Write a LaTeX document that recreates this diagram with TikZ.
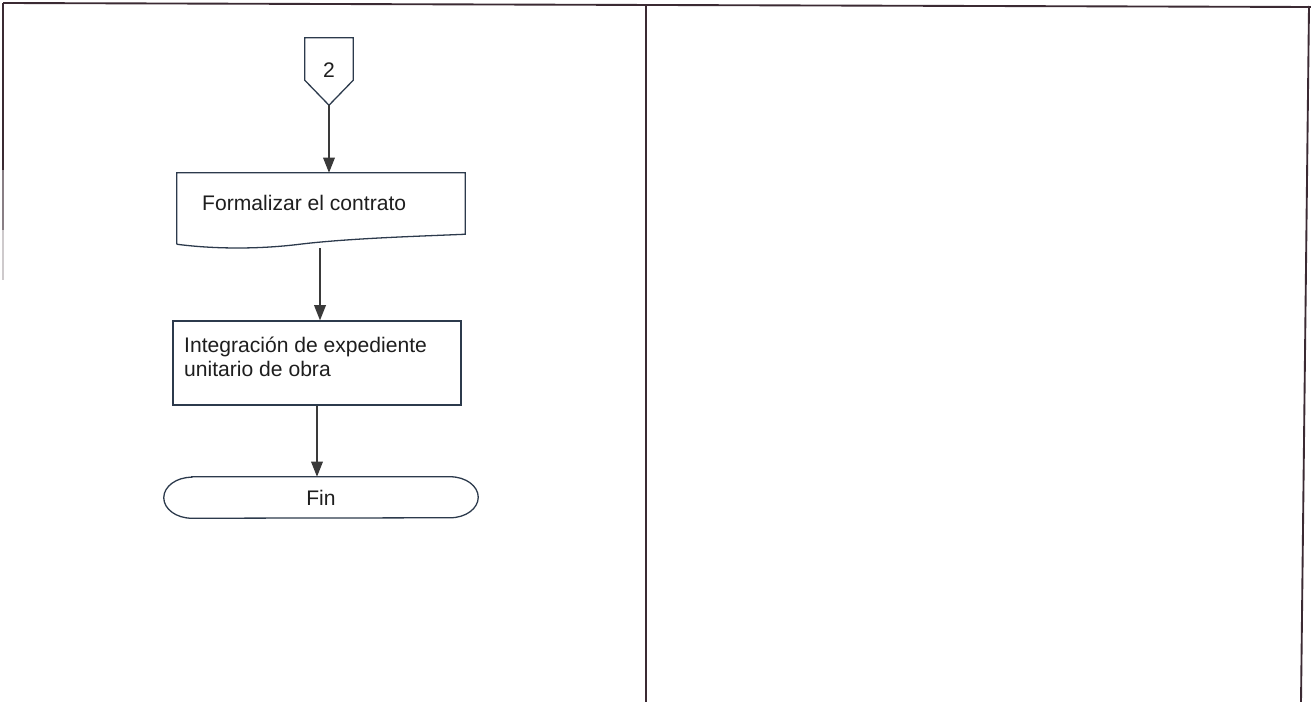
\documentclass[tikz,border=0pt]{standalone}
\usepackage{fontspec}
\setmainfont{Liberation Sans}
\usetikzlibrary{arrows.meta,calc}

\definecolor{framecol}{HTML}{3B2A33}
\definecolor{shapecol}{HTML}{2C3A4C}
\definecolor{arrowcol}{HTML}{3A3A3A}
\definecolor{textcol}{HTML}{1E1E1E}

\tikzset{
  frameline/.style={draw=framecol, line width=1.6pt},
  outline/.style={draw=shapecol, line width=1.1pt, line join=miter},
  holder/.style={draw=none, inner sep=0pt},
  label18/.style={font=\fontsize{18}{20.5}\selectfont, text=textcol, inner sep=0pt},
  flow/.style={draw=arrowcol, line width=1.2pt,
    -{Triangle[width=10pt,length=13pt,fill=arrowcol]}},
}

\begin{document}
\begin{tikzpicture}[x=0.03cm, y=-0.03cm]
  \useasboundingbox (0,0) rectangle (1311,702);

  % page frame and column divider
  \draw[frameline] (3,3) -- (1311,7);
  \draw[frameline] (3,3) -- (3,170);
  \draw[frameline, draw=framecol!60] (3,170) -- (3,230);
  \draw[frameline, draw=framecol!25] (3,230) -- (3,280);
  \draw[frameline] (646,5) -- (646,702);
  \draw[frameline] (1309,6) -- (1301,702);

  % off-page connector "2"
  \node[holder, minimum width=1.44cm, minimum height=2.01cm] (c2) at (329,71.5) {};
  \draw[outline] (c2.north west) -- (c2.north east)
    -- ($(c2.south east)+(0,-25)$) -- (c2.south)
    -- ($(c2.south west)+(0,-25)$) -- cycle;
  \node[label18] (c2t) at (329,70) {2};

  % document: Formalizar el contrato
  \node[holder, minimum width=8.64cm, minimum height=2.16cm] (d1box) at (321,209) {};
  \draw[outline] ($(d1box.south west)+(0,-1)$) -- (d1box.north west)
    -- (d1box.north east) -- ($(d1box.south east)+(0,-11)$)
    .. controls ($(d1box.south west)+(243,-9)$) and ($(d1box.south west)+(173,-7)$)
    .. ($(d1box.south west)+(123,-1)$)
    .. controls ($(d1box.south west)+(83,4)$) and ($(d1box.south west)+(38,4)$)
    .. ($(d1box.south west)+(0,-1)$);
  \node[label18, anchor=west] (d1) at (202,203) {Formalizar el contrato};

  % process: Integración de expediente unitario de obra
  \node[holder, outline, minimum width=8.64cm, minimum height=2.52cm] (d2box) at (317,363) {};
  \node[label18, anchor=west, align=left] (d2) at (184,357) {Integración de expediente\\unitario de obra};

  % terminator: Fin (elongated, with half-ellipse ends)
  \node[holder, label18, minimum width=9.42cm, minimum height=1.23cm] (d3) at (321,497.5) {Fin};
  \draw[outline] ($(d3.north west)+(28,0)$) -- ($(d3.north east)+(-28,0)$)
    arc[start angle=90, end angle=-90, x radius=0.84cm, y radius=0.615cm]
    -- ($(d3.south west)+(28,0)$)
    arc[start angle=270, end angle=90, x radius=0.84cm, y radius=0.615cm]
    -- cycle;

  % flow connectors
  \coordinate (d1out) at ($(d1box.south)+(-1,3)$);
  \draw[flow] (c2.south) -- (c2.south |- d1box.north);
  \draw[flow] (d1out) -- (d1out |- d2box.north);
  \draw[flow] (d2box.south) -- (d2box.south |- d3.north);
\end{tikzpicture}
\end{document}
